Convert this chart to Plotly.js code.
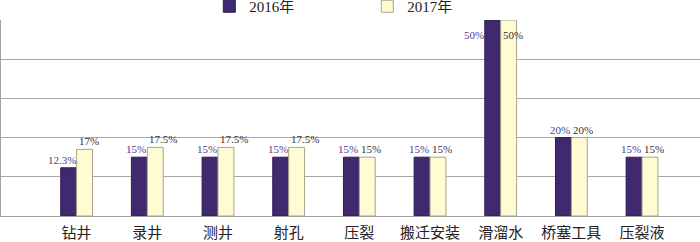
<!DOCTYPE html>
<html><head><meta charset="utf-8">
<script src="https://cdn.plot.ly/plotly-3.0.1.min.js"></script>
<style>html,body{margin:0;padding:0;background:#fff}#c{width:700px;height:242px}</style>
</head><body><div id="c"></div>
<script>
const categories = ["钻井","录井","测井","射孔","压裂","搬迁安装","滑溜水","桥塞工具","压裂液"];
const values2016 = [12.3,15,15,15,15,15,50,20,15];
const values2017 = [17,17.5,17.5,17.5,15,15,50,20,15];
const seriesNames = ["2016年","2017年"];
const yMax = 50;

const serif = '"Liberation Serif","Times New Roman",serif';
const cjk = '"Liberation Serif","Noto Sans CJK SC",serif';

const traces = [
  {type:'bar', name:seriesNames[0], x:categories, y:values2016,
   marker:{color:'#40296f', line:{color:'#2e1c55', width:1}}, hoverinfo:'none'},
  {type:'bar', name:seriesNames[1], x:categories, y:values2017,
   marker:{color:'#fffbd2', line:{color:'#a8a68a', width:1}}, hoverinfo:'none'}
];

const annotations = [];
function addLabels(vals, anchor, color){
  vals.forEach((v,i)=>{
    const top = v >= yMax;
    let xs = anchor==='right' ? 1 : 0;
    if (top && anchor==='right') xs -= 16;
    annotations.push({x:categories[i], y:v, xref:'x', yref:'y', text: v + '%',
      showarrow:false, xanchor:anchor, yanchor: top ? 'top' : 'bottom',
      yshift: top ? -7 : 0, xshift: xs,
      font:{family:serif, size:11, color:color}});
  });
}
addLabels(values2016, 'right', '#4e3d93');
addLabels(values2017, 'left', '#333333');

const layout = {
  width:700, height:242,
  margin:{l:1, r:0, t:20, b:26, pad:0, autoexpand:false},
  paper_bgcolor:'#fff', plot_bgcolor:'#fff',
  barmode:'group', bargap:0.55, bargroupgap:0,
  showlegend:true,
  legend:{orientation:'h', x:0.298, xanchor:'left', y:1.153, yanchor:'top',
    font:{family:cjk, size:15, color:'#222'}, entrywidth:113, entrywidthmode:'pixels',
    traceorder:'normal', bgcolor:'rgba(0,0,0,0)', itemclick:false},
  xaxis:{type:'category', range:[-1.07, 8.82], showgrid:false, showline:true,
    linecolor:'#a0a0a0', linewidth:1, ticks:'', ticklabelstandoff:3,
    tickfont:{family:cjk, size:15, color:'#222'}, fixedrange:true},
  yaxis:{range:[0,yMax], dtick:10, showgrid:true, gridcolor:'#a8a8a8', gridwidth:1,
    showline:true, linecolor:'#a0a0a0', linewidth:1, showticklabels:false,
    ticks:'', zeroline:false, fixedrange:true},
  annotations:annotations
};
Plotly.newPlot('c', traces, layout, {displayModeBar:false, staticPlot:true});
</script></body></html>
